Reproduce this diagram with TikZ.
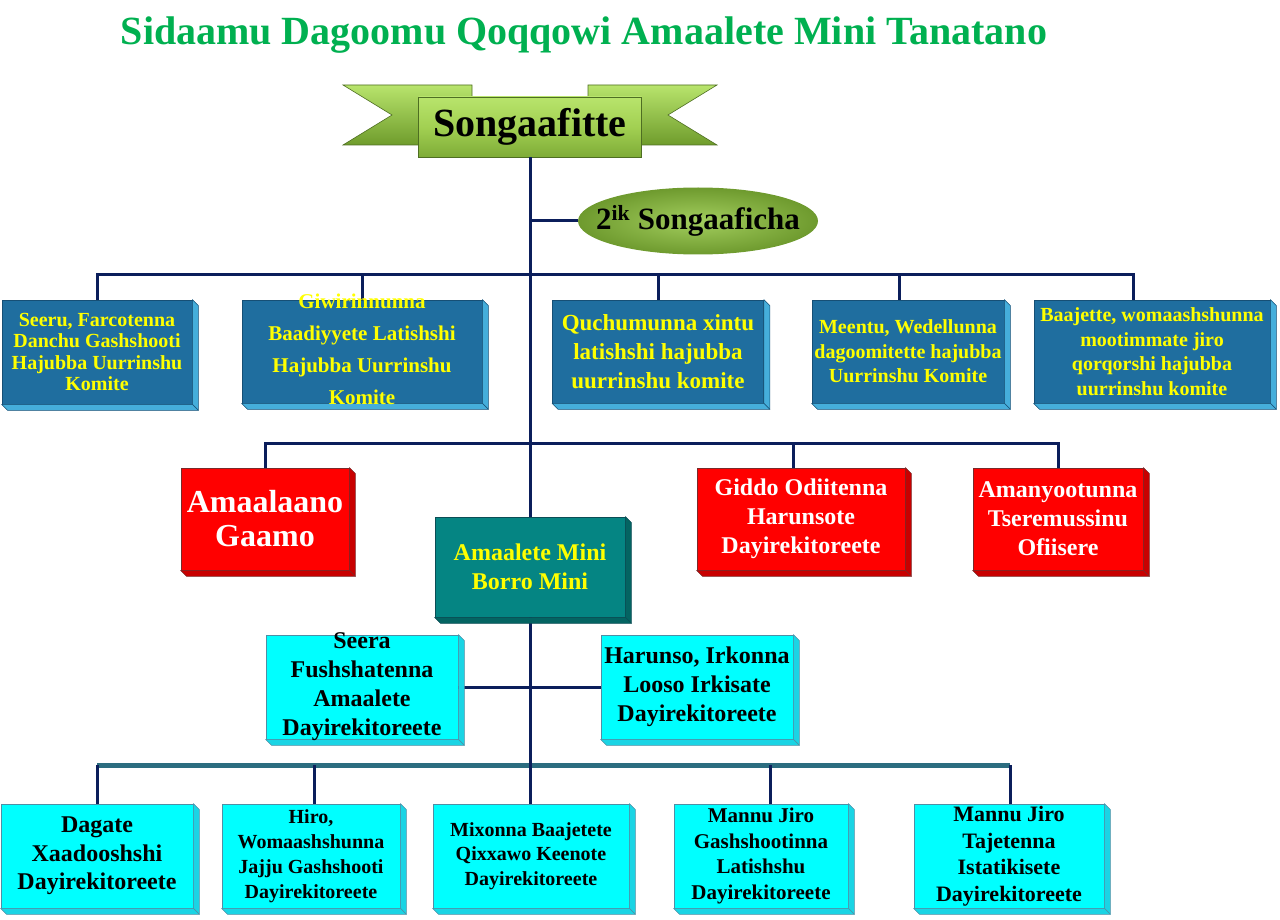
\documentclass[tikz,border=0pt]{standalone}
\usepackage{fontspec}
\setmainfont{Liberation Serif}
\usetikzlibrary{shapes.geometric}
\definecolor{navy}{HTML}{0B1E5B}
\definecolor{titlegreen}{HTML}{00B050}
\definecolor{bannerlight}{HTML}{B8E46C}
\definecolor{bannermid}{HTML}{A2D052}
\definecolor{bannerdark}{HTML}{6F9C2C}
\definecolor{bannerline}{HTML}{4E6E22}
\definecolor{ellin}{HTML}{A3CE5E}
\definecolor{ellout}{HTML}{6E9A2E}
\definecolor{bluef}{HTML}{1F6E9F}
\definecolor{blues}{HTML}{45AEDB}
\definecolor{blueb}{HTML}{164F75}
\definecolor{redf}{HTML}{FF0000}
\definecolor{reds}{HTML}{C80000}
\definecolor{redb}{HTML}{7A2A2A}
\definecolor{tealf}{HTML}{058583}
\definecolor{teals}{HTML}{046462}
\definecolor{tealb}{HTML}{0B4D55}
\definecolor{cyanf}{HTML}{00FFFF}
\definecolor{cyans}{HTML}{1AD4E4}
\definecolor{cyanb}{HTML}{4F8FA5}
\definecolor{barteal}{HTML}{2C6D80}
\definecolor{txtyellow}{HTML}{FFFF00}
\newcommand{\fs}[2]{\bfseries\fontsize{#1}{#2}\selectfont}
\newcommand{\boxdepth}[3]{%
  \filldraw[fill=#2,draw=#3,line width=0.6pt,line join=round]
    (#1.north east) -- ++(6,6) -- ([shift={(6,6)}]#1.south east) -- (#1.south east) -- cycle;
  \filldraw[fill=#2,draw=#3,line width=0.6pt,line join=round]
    (#1.south west) -- ++(6,6) -- ([shift={(6,6)}]#1.south east) -- (#1.south east) -- cycle;}
\begin{document}
\begin{tikzpicture}[x=1pt,y=-1pt,
  conn/.style={draw=navy,line width=3pt,line join=miter},
  bar/.style={draw=barteal,line width=5pt},
  card/.style={rectangle,inner sep=0pt,line width=0.8pt},
  bluecard/.style={card,fill=bluef,draw=blueb},
  redcard/.style={card,fill=redf,draw=redb},
  tealcard/.style={card,fill=tealf,draw=tealb},
  cyancard/.style={card,fill=cyanf,draw=cyanb},
  boxtext/.style={align=center,inner sep=0pt},
  tail/.style={top color=bannerlight,bottom color=bannerdark,draw=bannerline,line width=0.6pt}
]
\useasboundingbox (0,0) rectangle (1280,920);

% title
\node[text=titlegreen,font=\fs{40}{44},inner sep=0pt] (title) at (584,35)
  {Sidaamu Dagoomu Qoqqowi Amaalete Mini Tanatano};

% banner tails
\shade[tail] (343,85) -- (472,85) -- (472,145) -- (343,145) -- (392,115) -- cycle;
\shade[tail] (588,85) -- (717,85) -- (668,115) -- (717,145) -- (588,145) -- cycle;

% junction coordinates
\coordinate (e0) at (530,221);
\coordinate (a1) at (97,274);
\coordinate (a2) at (362,274);
\coordinate (a3) at (658,274);
\coordinate (a4) at (899,274);
\coordinate (a5) at (1133,274);
\coordinate (m1) at (265,443);
\coordinate (m2) at (793,443);
\coordinate (m3) at (1058,443);
\coordinate (b1) at (97,765);
\coordinate (b2) at (314,765);
\coordinate (b3) at (530,765);
\coordinate (b4) at (770,765);
\coordinate (b5) at (1010,765);

% nodes (boxes)
\node[rectangle,minimum width=223pt,minimum height=60pt,inner sep=0pt,
  top color=bannerlight,bottom color=bannerdark!70!bannermid,middle color=bannermid,
  draw=bannerline,line width=0.6pt,font=\fs{40}{44}] (top) at (530,127) {Songaafitte};

\node[ellipse,minimum width=240pt,minimum height=67pt,inner sep=0pt,
  inner color=ellin,outer color=ellout] (E) at (698,221) {};

% blue committees
\node[bluecard,minimum width=190pt,minimum height=104pt] (B1) at (97,352) {};
\node[bluecard,minimum width=240pt,minimum height=103pt] (B2) at (362,351.5) {};
\node[bluecard,minimum width=211pt,minimum height=103pt] (B3) at (658,351.5) {};
\node[bluecard,minimum width=192pt,minimum height=103pt] (B4) at (908,351.5) {};
\node[bluecard,minimum width=236pt,minimum height=103pt] (B5) at (1152,351.5) {};

% red
\node[redcard,minimum width=168pt,minimum height=102pt] (R1) at (265,519) {};
\node[redcard,minimum width=208pt,minimum height=102pt] (R2) at (801,519) {};
\node[redcard,minimum width=170pt,minimum height=102pt] (R3) at (1058,519) {};

% teal
\node[tealcard,minimum width=190pt,minimum height=100pt] (T) at (530,567) {};

% cyan middle
\node[cyancard,minimum width=192pt,minimum height=104pt] (C1) at (362,687) {};
\node[cyancard,minimum width=192pt,minimum height=104pt] (C2) at (697,687) {};

% cyan bottom
\node[cyancard,minimum width=192pt,minimum height=104pt] (D1) at (97,856) {};
\node[cyancard,minimum width=178pt,minimum height=104pt] (D2) at (311,856) {};
\node[cyancard,minimum width=196pt,minimum height=104pt] (D3) at (531,856) {};
\node[cyancard,minimum width=174pt,minimum height=104pt] (D4) at (761,856) {};
\node[cyancard,minimum width=190pt,minimum height=104pt] (D5) at (1009,856) {};

% connectors
\draw[conn] (top.south) -- (T.north);
\draw[conn] (e0) -- (E.west);
\draw[conn] (a1 |- B1.north) -- (a1) -- (a5) -- (a5 |- B5.north);
\foreach \c/\b in {a2/B2,a3/B3,a4/B4}{\draw[conn] (\c) -- (\c |- \b.north);}
\draw[conn] (m1 |- R1.north) -- (m1) -- (m3) -- (m3 |- R3.north);
\draw[conn] (m2) -- (m2 |- R2.north);
\draw[conn] (C1.east) -- (C2.west);
\draw[bar] (b1) -- (b5);
\draw[conn] (T.south) -- (b3 |- D3.north);
\foreach \c/\b in {b1/D1,b2/D2,b4/D4,b5/D5}{\draw[conn] (\c) -- (\c |- \b.north);}

% 3D depth
\foreach \n in {B1,B2,B3,B4,B5}{\boxdepth{\n}{blues}{blueb}}
\foreach \n in {R1,R2,R3}{\boxdepth{\n}{reds}{redb}}
\boxdepth{T}{teals}{tealb}
\foreach \n in {C1,C2,D1,D2,D3,D4,D5}{\boxdepth{\n}{cyans}{cyanb}}

% texts
\node[boxtext,font=\fs{31}{34}] (Et) at (E) {2\textsuperscript{ik} Songaaficha};

\node[boxtext,text=txtyellow,font=\fs{20}{21.5}] (B1t) at (B1) {Seeru, Farcotenna\\Danchu Gashshooti\\Hajubba Uurrinshu\\Komite};
\node[boxtext,text=txtyellow,font=\fs{21}{32}] (B2t) at ([yshift=2]B2.center) {Giwirinnunna\\Baadiyyete Latishshi\\Hajubba Uurrinshu\\Komite};
\node[boxtext,text=txtyellow,font=\fs{23}{29}] (B3t) at (B3) {Quchumunna xintu\\latishshi hajubba\\uurrinshu komite};
\node[boxtext,text=txtyellow,font=\fs{20}{24.5}] (B4t) at (B4) {Meentu, Wedellunna\\dagoomitette hajubba\\Uurrinshu Komite};
\node[boxtext,text=txtyellow,font=\fs{20}{24.5}] (B5t) at (B5) {Baajette, womaashshunna\\mootimmate jiro\\qorqorshi hajubba\\uurrinshu komite};

\node[boxtext,text=white,font=\fs{32}{34}] (R1t) at (R1) {Amaalaano\\Gaamo};
\node[boxtext,text=white,font=\fs{24}{29}] (R2t) at (R2) {Giddo Odiitenna\\Harunsote\\Dayirekitoreete};
\node[boxtext,text=white,font=\fs{24}{29}] (R3t) at (R3) {Amanyootunna\\Tseremussinu\\Ofiisere};

\node[boxtext,text=txtyellow,font=\fs{24}{29}] (Tt) at (T) {Amaalete Mini\\Borro Mini};

\node[boxtext,text=black,font=\fs{24}{29}] (C1t) at (C1) {Seera\\Fushshatenna\\Amaalete\\Dayirekitoreete};
\node[boxtext,text=black,font=\fs{24}{29}] (C2t) at (C2) {Harunso, Irkonna\\Looso Irkisate\\Dayirekitoreete};

\node[boxtext,text=black,font=\fs{24}{28.5}] (D1t) at (D1) {Dagate\\Xaadooshshi\\Dayirekitoreete};
\node[boxtext,text=black,font=\fs{20}{25}] (D2t) at (D2) {Hiro,\\Womaashshunna\\Jajju Gashshooti\\Dayirekitoreete};
\node[boxtext,text=black,font=\fs{20}{24.5}] (D3t) at (D3) {Mixonna Baajetete\\Qixxawo Keenote\\Dayirekitoreete};
\node[boxtext,text=black,font=\fs{21}{25.5}] (D4t) at (D4) {Mannu Jiro\\Gashshootinna\\Latishshu\\Dayirekitoreete};
\node[boxtext,text=black,font=\fs{22}{26.5}] (D5t) at (D5) {Mannu Jiro\\Tajetenna\\Istatikisete\\Dayirekitoreete};
\end{tikzpicture}
\end{document}
